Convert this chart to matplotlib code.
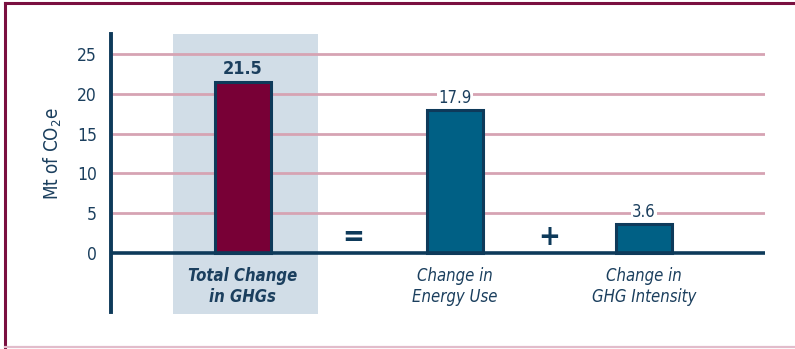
import matplotlib.pyplot as plt
from matplotlib.lines import Line2D
from matplotlib.patches import Rectangle

categories = ["Total Change\nin GHGs", "Change in\nEnergy Use", "Change in\nGHG Intensity"]
values = [21.5, 17.9, 3.6]
value_labels = ["21.5", "17.9", "3.6"]
yticks = [0, 5, 10, 15, 20, 25]
operators = ["=", "+"]

# layout (category positions are not evenly spaced in the original)
xpos = [0.0, 1.0, 1.89]
bar_w = 0.265
bar_colors = ["#780036", "#006085", "#006085"]
edge_col = "#0E3A5A"
text_col = "#1B3F5E"
grid_col = "#D6A3B3"

plt.rcParams['font.family'] = ['DejaVu Sans']
plt.rcParams['font.stretch'] = 'condensed'

fig = plt.figure(figsize=(7.95, 3.49), dpi=100)
ax = fig.add_axes([111/795, 1 - 312/349, (765 - 111)/795, (312 - 34)/349])

# axes are set up so that 0 sits at y=253 px, 25 at y=54 px
ax.set_ylim(-7.4, 27.5)
ax.set_xlim(-0.62, 2.46)

# shaded highlight behind the first category
ax.add_patch(Rectangle((-0.33, -7.6), 0.685, 35.1, facecolor="#D1DDE7",
                       edgecolor="none", zorder=0, clip_on=False))

for t in yticks[1:]:
    ax.axhline(t, color=grid_col, lw=2.0, zorder=1)
ax.axhline(0, color=edge_col, lw=2.6, zorder=4)

ax.bar(xpos, values, width=bar_w, color=bar_colors, edgecolor=edge_col,
       linewidth=2.2, zorder=3)

# value labels; white background breaks the gridline (except the first one)
for i, (x, v, lab) in enumerate(zip(xpos, values, value_labels)):
    if i == 0:
        ax.text(x, v + 0.45, lab, ha="center", va="bottom", fontsize=13,
                fontweight="bold", color=text_col, zorder=5)
    else:
        ax.text(x, v + 0.45, lab, ha="center", va="bottom", fontsize=12,
                color=text_col, zorder=2,
                bbox=dict(facecolor="white", edgecolor="none", pad=1.0))

for i, (x, cat) in enumerate(zip(xpos, categories)):
    ax.text(x, -1.75, cat, ha="center", va="top", fontsize=12,
            style="italic", fontweight="bold" if i == 0 else "normal",
            color=text_col, linespacing=1.2)

for j, op in enumerate(operators):
    xm = (xpos[j] + xpos[j + 1]) / 2 + (0.02 if j == 0 else 0.0)
    ax.text(xm, 2.0, op, ha="center", va="center", fontsize=21,
            fontweight="bold", color=edge_col)

ax.set_yticks(yticks)
ax.set_yticklabels([str(t) for t in yticks], fontsize=12.5, color=text_col)
ax.tick_params(axis="y", length=0, pad=10)
ax.set_xticks([])
for s in ["top", "right", "bottom"]:
    ax.spines[s].set_visible(False)
ax.spines["left"].set_color(edge_col)
ax.spines["left"].set_linewidth(2.8)
ax.set_facecolor("none")

ax.set_ylabel("Mt of CO$_2$e", fontsize=13.5, color=text_col)
ax.yaxis.set_label_coords(-0.072, 0.57)

# figure frame: dark top & left edges, light bottom edge
fig.add_artist(Line2D([5/795, 5/795], [0, 1 - 3/349], color="#7A1040", lw=2.2))
fig.add_artist(Line2D([5/795, 1], [1 - 3/349, 1 - 3/349], color="#7A1040", lw=2.2))
fig.add_artist(Line2D([5/795, 1], [2/349, 2/349], color="#E2BCCB", lw=1.6))

fig.savefig("out.png", dpi=100)
